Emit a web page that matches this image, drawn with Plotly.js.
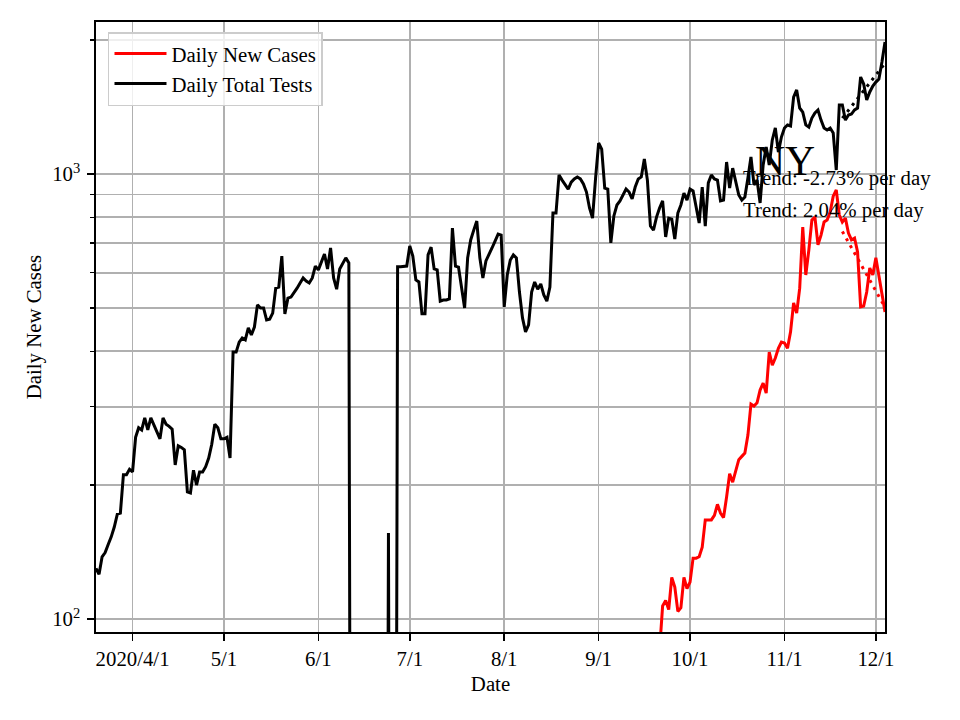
<!DOCTYPE html>
<html>
<head>
<meta charset="utf-8">
<script src="https://cdn.plot.ly/plotly-3.0.1.min.js"></script>
<style>html,body{margin:0;padding:0;background:#fff;}#chart{width:960px;height:720px;}</style>
</head>
<body>
<div id="chart"></div>
<script>
// ---- data ----
const testsStart = '2020-03-20';
const dailyTotalTests = [
 130,126,138,141,147,153,161,172,173,211,
 211,217,214,256,269,266,283,266,283,273,
 263,254,283,274,271,267,222,245,243,240,
 193,192,216,200,214,214,220,230,247,274,
 269,254,254,256,230,398,398,419,428,424,
 451,435,453,508,500,500,470,472,487,554,
 557,654,485,526,529,540,554,569,584,575,
 569,584,621,609,634,661,612,682,584,551,
 612,631,648,631,1,1,1,1,1,1,
 1,1,1,1,1,1,156,1,1,619,
 619,619,621,689,654,578,572,485,485,658,
 685,612,609,518,521,521,524,756,621,618,
 557,500,648,711,748,784,648,584,638,658,
 682,707,733,729,503,593,641,658,648,543,
 475,442,458,543,572,551,566,535,518,557,
 817,817,995,969,945,925,959,975,985,975,
 950,911,839,796,980,1174,1138,930,925,700,
 805,852,870,897,925,911,879,935,975,985,
 1081,969,764,748,800,839,870,722,796,792,
 714,817,852,906,874,925,916,843,776,935,
 764,955,995,975,969,870,874,1064,930,1031,
 969,897,874,888,980,1092,945,969,861,1048,
 1150,1048,1193,1269,1120,1211,1269,1289,1282,1489,
 1545,1407,1378,1289,1275,1336,1371,1393,1322,1269,
 1256,1269,1237,1021,1429,1429,1322,1357,1364,1393,
 1407,1652,1593,1466,1529,1577,1609,1635,1785,1981
];
const casesStart = '2020-09-21';
const dailyNewCases = [
 85,107,110,105,124,
 118,104,106,124,117,121,137,137,138,145,
 167,167,167,171,181,173,169,188,212,203,
 216,228,232,236,259,304,301,306,327,339,
 322,398,372,386,406,419,417,406,442,513,
 487,554,760,593,675,788,800,693,729,780,
 788,821,892,921,809,780,796,737,711,718,
 668,503,505,543,615,593,648,584,538,490
];
const trendDates = ['2020-11-20', '2020-12-04'];
const trendCases = [743, 502];
const trendTests = [1335, 1774];

const tickDates = ['2020-04-01','2020-05-01','2020-06-01','2020-07-01','2020-08-01','2020-09-01','2020-10-01','2020-11-01','2020-12-01'];
const tickLabels = ['2020/4/1','5/1','6/1','7/1','8/1','9/1','10/1','11/1','12/1'];
const yMajor = [100, 1000];
const yMajorLabels = ['10<sup>2</sup>', '10<sup>3</sup>'];
const yMinor = [200,300,400,500,600,700,800,900,2000];

const annTitle = 'NY';
const annTrendCases = 'Trend: -2.73% per day';
const annTrendTests = 'Trend: 2.04% per day';

// ---- helpers ----
function dateSeq(start, n) {
  const out = [];
  const d0 = new Date(start + 'T00:00:00Z');
  for (let i = 0; i < n; i++) {
    const d = new Date(d0.getTime() + i * 86400000);
    out.push(d.toISOString().slice(0, 10));
  }
  return out;
}

const FONT = 'Liberation Serif, Times New Roman, serif';
const FS = 20.8;
const GRID = '#b0b0b0';

const traces = [
  { x: dateSeq(casesStart, dailyNewCases.length), y: dailyNewCases, mode: 'lines', name: 'Daily New Cases',
    line: { color: '#ff0000', width: 3 }, cliponaxis: true },
  { x: dateSeq(testsStart, dailyTotalTests.length), y: dailyTotalTests, mode: 'lines', name: 'Daily Total Tests',
    line: { color: '#000000', width: 3 }, cliponaxis: true },
  { x: trendDates, y: trendCases, mode: 'lines', showlegend: false,
    line: { color: '#ff0000', width: 3, dash: '3px,5px' } },
  { x: trendDates, y: trendTests, mode: 'lines', showlegend: false,
    line: { color: '#000000', width: 3, dash: '3px,5px' } }
];

const layout = {
  width: 960, height: 720,
  margin: { l: 96, r: 75, t: 22, b: 88, pad: 0 },
  paper_bgcolor: '#ffffff', plot_bgcolor: '#ffffff',
  font: { family: FONT, size: FS, color: '#000000' },
  showlegend: true,
  legend: {
    x: 0.0152, y: 0.9836, xanchor: 'left', yanchor: 'top',
    bgcolor: 'rgba(255,255,255,0.8)', bordercolor: '#cccccc', borderwidth: 1.5,
    font: { family: FONT, size: FS, color: '#000000' },
    traceorder: 'normal', itemwidth: 52
  },
  xaxis: {
    type: 'date',
    range: ['2020-03-20', '2020-12-04'],
    tickmode: 'array', tickvals: tickDates, ticktext: tickLabels,
    ticks: 'outside', ticklen: 7, tickwidth: 1.6, tickcolor: '#000000',
    showgrid: true, gridcolor: GRID, gridwidth: 1.6,
    showline: true, linecolor: '#000000', linewidth: 1.6, mirror: true,
    zeroline: false,
    tickfont: { family: FONT, size: FS, color: '#000000' },
    title: { text: 'Date', font: { family: FONT, size: FS, color: '#000000' }, standoff: 8 }
  },
  yaxis: {
    type: 'log',
    range: [Math.log10(93.5), Math.log10(2196)],
    tickmode: 'array', tickvals: yMajor, ticktext: yMajorLabels,
    ticks: 'outside', ticklen: 7, tickwidth: 1.6, tickcolor: '#000000',
    showgrid: true, gridcolor: GRID, gridwidth: 1.6,
    minor: { tickmode: 'array', tickvals: yMinor, ticks: 'outside', ticklen: 4, tickwidth: 1.2,
             tickcolor: '#000000', showgrid: true, gridcolor: GRID, gridwidth: 1.6 },
    showline: true, linecolor: '#000000', linewidth: 1.6, mirror: true,
    zeroline: false,
    ticklabelstandoff: 3,
    tickfont: { family: FONT, size: FS, color: '#000000' },
    title: { text: 'Daily New Cases', font: { family: FONT, size: FS, color: '#000000' }, standoff: 5 }
  },
  annotations: [
    { text: annTitle, xref: 'paper', yref: 'paper', x: 0.873, y: 0.772, xanchor: 'center', yanchor: 'middle',
      showarrow: false, font: { family: FONT, size: 41.7, color: '#000000' } },
    { text: annTrendCases, xref: 'paper', yref: 'paper', x: 0.8175, y: 0.7443, xanchor: 'left', yanchor: 'middle',
      showarrow: false, font: { family: FONT, size: FS, color: '#000000' } },
    { text: annTrendTests, xref: 'paper', yref: 'paper', x: 0.8175, y: 0.6918, xanchor: 'left', yanchor: 'middle',
      showarrow: false, font: { family: FONT, size: FS, color: '#000000' } }
  ]
};

Plotly.newPlot('chart', traces, layout, { displayModeBar: false, staticPlot: true });
</script>
</body>
</html>
